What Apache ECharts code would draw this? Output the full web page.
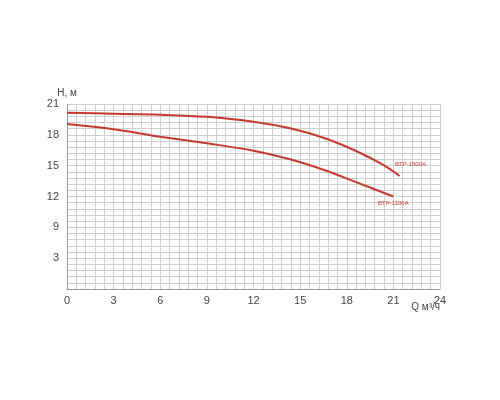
<!DOCTYPE html>
<html>
<head>
  <meta charset="utf-8">
  <title>Pump curves</title>
  <script src="https://cdn.jsdelivr.net/npm/echarts@6/dist/echarts.min.js"></script>
  <style>
    html, body { margin: 0; padding: 0; background: #fff; }
    #chart { width: 500px; height: 400px; }
  </style>
</head>
<body>
<div id="chart"></div>
<script>
  // flow Q (m3/h) and head H (m)
  const curve1500 = [[0, 20.15], [3, 20.06], [6, 19.96], [9, 19.75], [12, 19.28], [14.35, 18.64], [16.5, 17.72], [18.6, 16.43], [20.35, 15.07], [21.4, 14.0]];
  const curve1100 = [[0, 19.05], [3, 18.54], [6, 17.82], [9, 17.18], [12, 16.46], [14.35, 15.62], [16.5, 14.6], [18.6, 13.4], [21, 12.0]];
  const seriesNames = ['BTP-1500A', 'BTP-1100A'];
  const labelAt = [[22.1, 15.1], [21.0, 11.3]];
  // the source labels the 6 line as "3" and leaves the bottom blank
  const yTickLabels = { 3: '', 6: '3', 9: '9', 12: '12', 15: '15', 18: '18', 21: '21' };

  const red = '#c6392f';
  const gridColor = '#cfcfcf';

  const chart = echarts.init(document.getElementById('chart'));

  function curve(name, data, at) {
    return {
      name: name,
      type: 'line',
      data: data,
      smooth: 0.35,
      symbol: 'none',
      lineStyle: { color: red, width: 2 },
      markPoint: {
        symbol: 'circle',
        symbolSize: 0,
        data: [{ coord: at }],
        label: {
          show: true,
          formatter: name,
          color: red,
          fontSize: 6,
          fontFamily: 'Liberation Sans'
        }
      }
    };
  }

  chart.setOption({
    animation: false,
    grid: { left: 67, right: 60, top: 104, bottom: 111 },
    textStyle: { fontFamily: 'Liberation Sans' },
    xAxis: {
      type: 'value',
      min: 0,
      max: 24,
      interval: 3,
      name: 'Q м³/ч',
      nameLocation: 'end',
      nameGap: 0,
      nameMoveOverlap: false,
      nameTextStyle: { color: '#444', fontSize: 10, align: 'right', verticalAlign: 'top', padding: [13, 0, 0, 0] },
      axisLine: { lineStyle: { color: '#999' } },
      axisTick: { show: false },
      axisLabel: { color: '#444', fontSize: 11, margin: 6 },
      splitLine: { show: true, lineStyle: { color: gridColor } },
      minorTick: { show: false, splitNumber: 5 },
      minorSplitLine: { show: true, lineStyle: { color: gridColor } }
    },
    yAxis: {
      type: 'value',
      min: 3,
      max: 21,
      interval: 3,
      name: 'Н, м',
      nameLocation: 'end',
      nameGap: 6,
      nameTextStyle: { color: '#444', fontSize: 10 },
      axisLine: { show: true, lineStyle: { color: '#999' } },
      axisTick: { show: false },
      axisLabel: {
        color: '#444',
        fontSize: 11,
        margin: 8,
        formatter: function (v) { return yTickLabels[v]; }
      },
      splitLine: { show: true, lineStyle: { color: gridColor } },
      minorTick: { show: false, splitNumber: 5 },
      minorSplitLine: { show: true, lineStyle: { color: gridColor } }
    },
    series: [
      curve(seriesNames[0], curve1500, labelAt[0]),
      curve(seriesNames[1], curve1100, labelAt[1])
    ]
  });
</script>
</body>
</html>
